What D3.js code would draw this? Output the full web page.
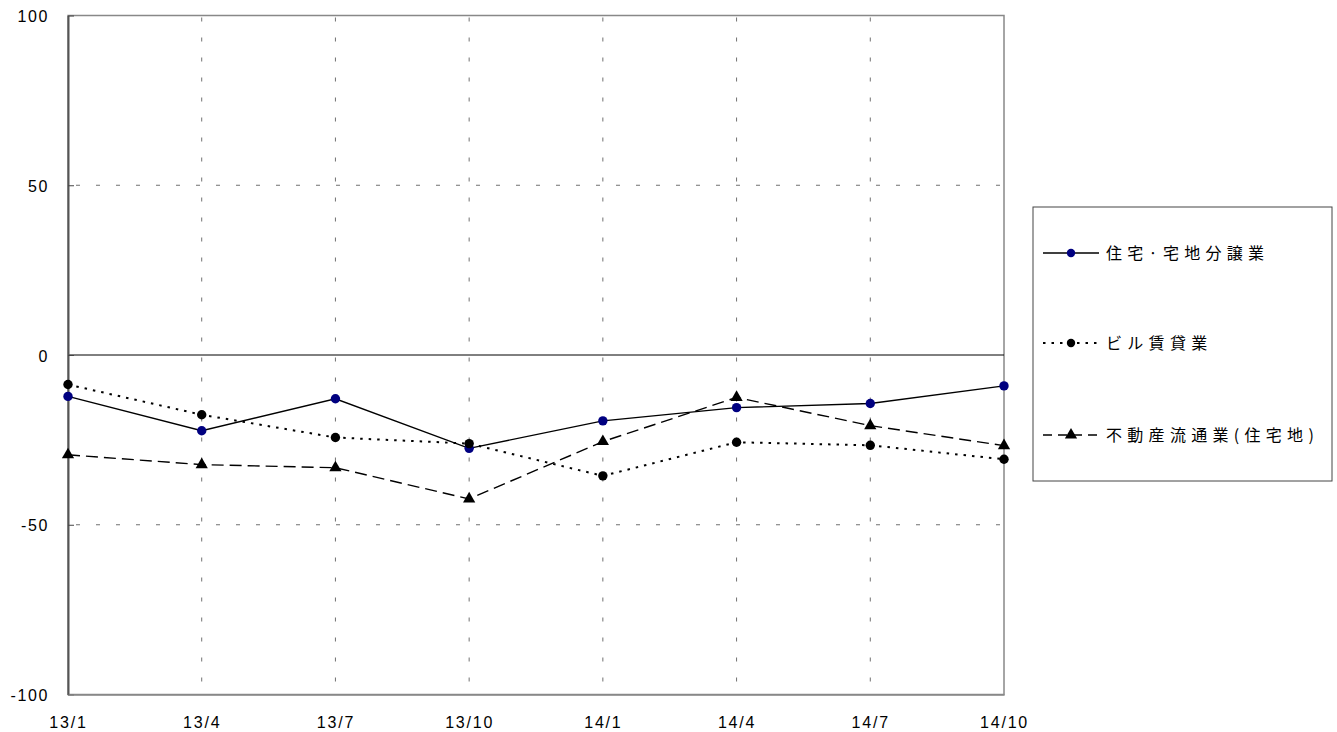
<!DOCTYPE html>
<html><head><meta charset="utf-8">
<script src="https://cdn.jsdelivr.net/npm/d3@7"></script>
<style>
body{margin:0;background:#fff;}
svg{display:block;}
text{font-family:"Liberation Sans",Arial,"Noto Sans CJK JP",sans-serif;fill:#000;}
.jp{font-family:"Noto Sans CJK JP","Liberation Sans",sans-serif;}
</style></head>
<body>
<svg id="c" width="1337" height="732"></svg>
<script>
const categories = ["13/1","13/4","13/7","13/10","14/1","14/4","14/7","14/10"];
const yTicks = [100, 50, 0, -50, -100];
const seriesNames = ["住宅·宅地分譲業","ビル賃貸業","不動産流通業(住宅地)"];
const housing = [-12.2, -22.3, -12.9, -27.5, -19.4, -15.5, -14.3, -9.1];
const office = [-8.7, -17.6, -24.3, -26.1, -35.6, -25.7, -26.6, -30.7];
const brokerage = [-29.4, -32.3, -33.2, -42.4, -25.5, -12.5, -20.8, -26.7];

const svg = d3.select("#c");
const L = 68, R = 1004, T = 15.5, B = 694.5;
const x = d3.scalePoint().domain(categories).range([L, R]);
const y = d3.scaleLinear().domain([-100, 100]).range([B, T]);

// gridlines
const g = svg.append("g");
g.selectAll(".vg").data(categories.slice(1, -1)).enter().append("line")
  .attr("x1", d => x(d)).attr("x2", d => x(d)).attr("y1", T).attr("y2", B)
  .attr("stroke", "#707070").attr("stroke-width", 1).attr("stroke-dasharray", "4,16")
  .attr("stroke-dashoffset", -2);
g.selectAll(".hg").data([50, -50]).enter().append("line")
  .attr("x1", L).attr("x2", R).attr("y1", d => y(d)).attr("y2", d => y(d))
  .attr("stroke", "#707070").attr("stroke-width", 1).attr("stroke-dasharray", "4,16")
  .attr("stroke-dashoffset", -8);

// frame
svg.append("rect").attr("x", L).attr("y", T).attr("width", R - L).attr("height", B - T)
  .attr("fill", "none").attr("stroke", "#888").attr("stroke-width", 1.5);
// zero line
svg.append("line").attr("x1", L).attr("x2", R).attr("y1", y(0)).attr("y2", y(0))
  .attr("stroke", "#000").attr("stroke-width", 1);

// y axis
const yAxis = d3.axisLeft(y).tickValues(yTicks).tickFormat(d => String(d))
  .tickSizeInner(-6).tickSizeOuter(0).tickPadding(19);
const ya = svg.append("g").attr("transform", `translate(${L},0)`).call(yAxis);
ya.select(".domain").attr("stroke", "#555").attr("stroke-width", 2);
ya.selectAll(".tick line").attr("stroke", "#444");
ya.selectAll("text").attr("font-size", 16).attr("letter-spacing", "1.6px")
  .attr("font-family", "Liberation Sans, Arial, sans-serif").attr("fill", "#000").attr("dy", "0.38em");

// x axis
const xAxis = d3.axisBottom(x).tickSizeInner(0).tickSizeOuter(0).tickPadding(22);
const xa = svg.append("g").attr("transform", `translate(0,${B})`).call(xAxis);
xa.select(".domain").attr("stroke", "#888").attr("stroke-width", 1.5);
xa.selectAll("text").attr("font-size", 16).attr("letter-spacing", "1.8px")
  .attr("font-family", "Liberation Sans, Arial, sans-serif").attr("fill", "#000");

// series
const series = [
  {name: seriesNames[0], values: housing, dash: null, marker: "circle", fill: "#000080"},
  {name: seriesNames[1], values: office, dash: "2.5,6", marker: "circle", fill: "#000"},
  {name: seriesNames[2], values: brokerage, dash: "12,6", marker: "triangle", fill: "#000"}
];
const line = d3.line().x((d, i) => x(categories[i])).y(d => y(d));
const tri = d3.symbol().type(d3.symbolTriangle).size(65);

series.forEach(s => {
  const p = svg.append("path").datum(s.values).attr("d", line)
    .attr("fill", "none").attr("stroke", "#000").attr("stroke-width", s.dash === "2.5,6" ? 2 : 1.4);
  if (s.dash) p.attr("stroke-dasharray", s.dash);
  const m = svg.append("g");
  s.values.forEach((v, i) => {
    if (s.marker === "circle") {
      m.append("circle").attr("cx", x(categories[i])).attr("cy", y(v)).attr("r", 4.7).attr("fill", s.fill);
    } else {
      m.append("path").attr("d", tri).attr("transform", `translate(${x(categories[i])},${y(v)})`).attr("fill", s.fill);
    }
  });
});

// legend
const lg = svg.append("g");
lg.append("rect").attr("x", 1033).attr("y", 207).attr("width", 299).attr("height", 274)
  .attr("fill", "#fff").attr("stroke", "#444").attr("stroke-width", 1);
const ly = [253, 343, 435];
series.forEach((s, i) => {
  const l = lg.append("line").attr("x1", 1043).attr("x2", 1099).attr("y1", ly[i]).attr("y2", ly[i])
    .attr("stroke", "#000").attr("stroke-width", i === 1 ? 2 : 1.4);
  if (s.dash) l.attr("stroke-dasharray", i === 1 ? "2.5,6" : "9,6");
  if (s.marker === "circle") {
    lg.append("circle").attr("cx", 1071).attr("cy", ly[i]).attr("r", 4.2).attr("fill", s.fill);
  } else {
    lg.append("path").attr("d", tri).attr("transform", `translate(1071,${ly[i]})`).attr("fill", s.fill);
  }
  lg.append("text").attr("class", "jp").attr("x", 1106).attr("y", ly[i]).attr("dy", "0.36em")
    .attr("font-size", 16).attr("letter-spacing", "5.3px").text(s.name);
});
</script>
</body></html>
